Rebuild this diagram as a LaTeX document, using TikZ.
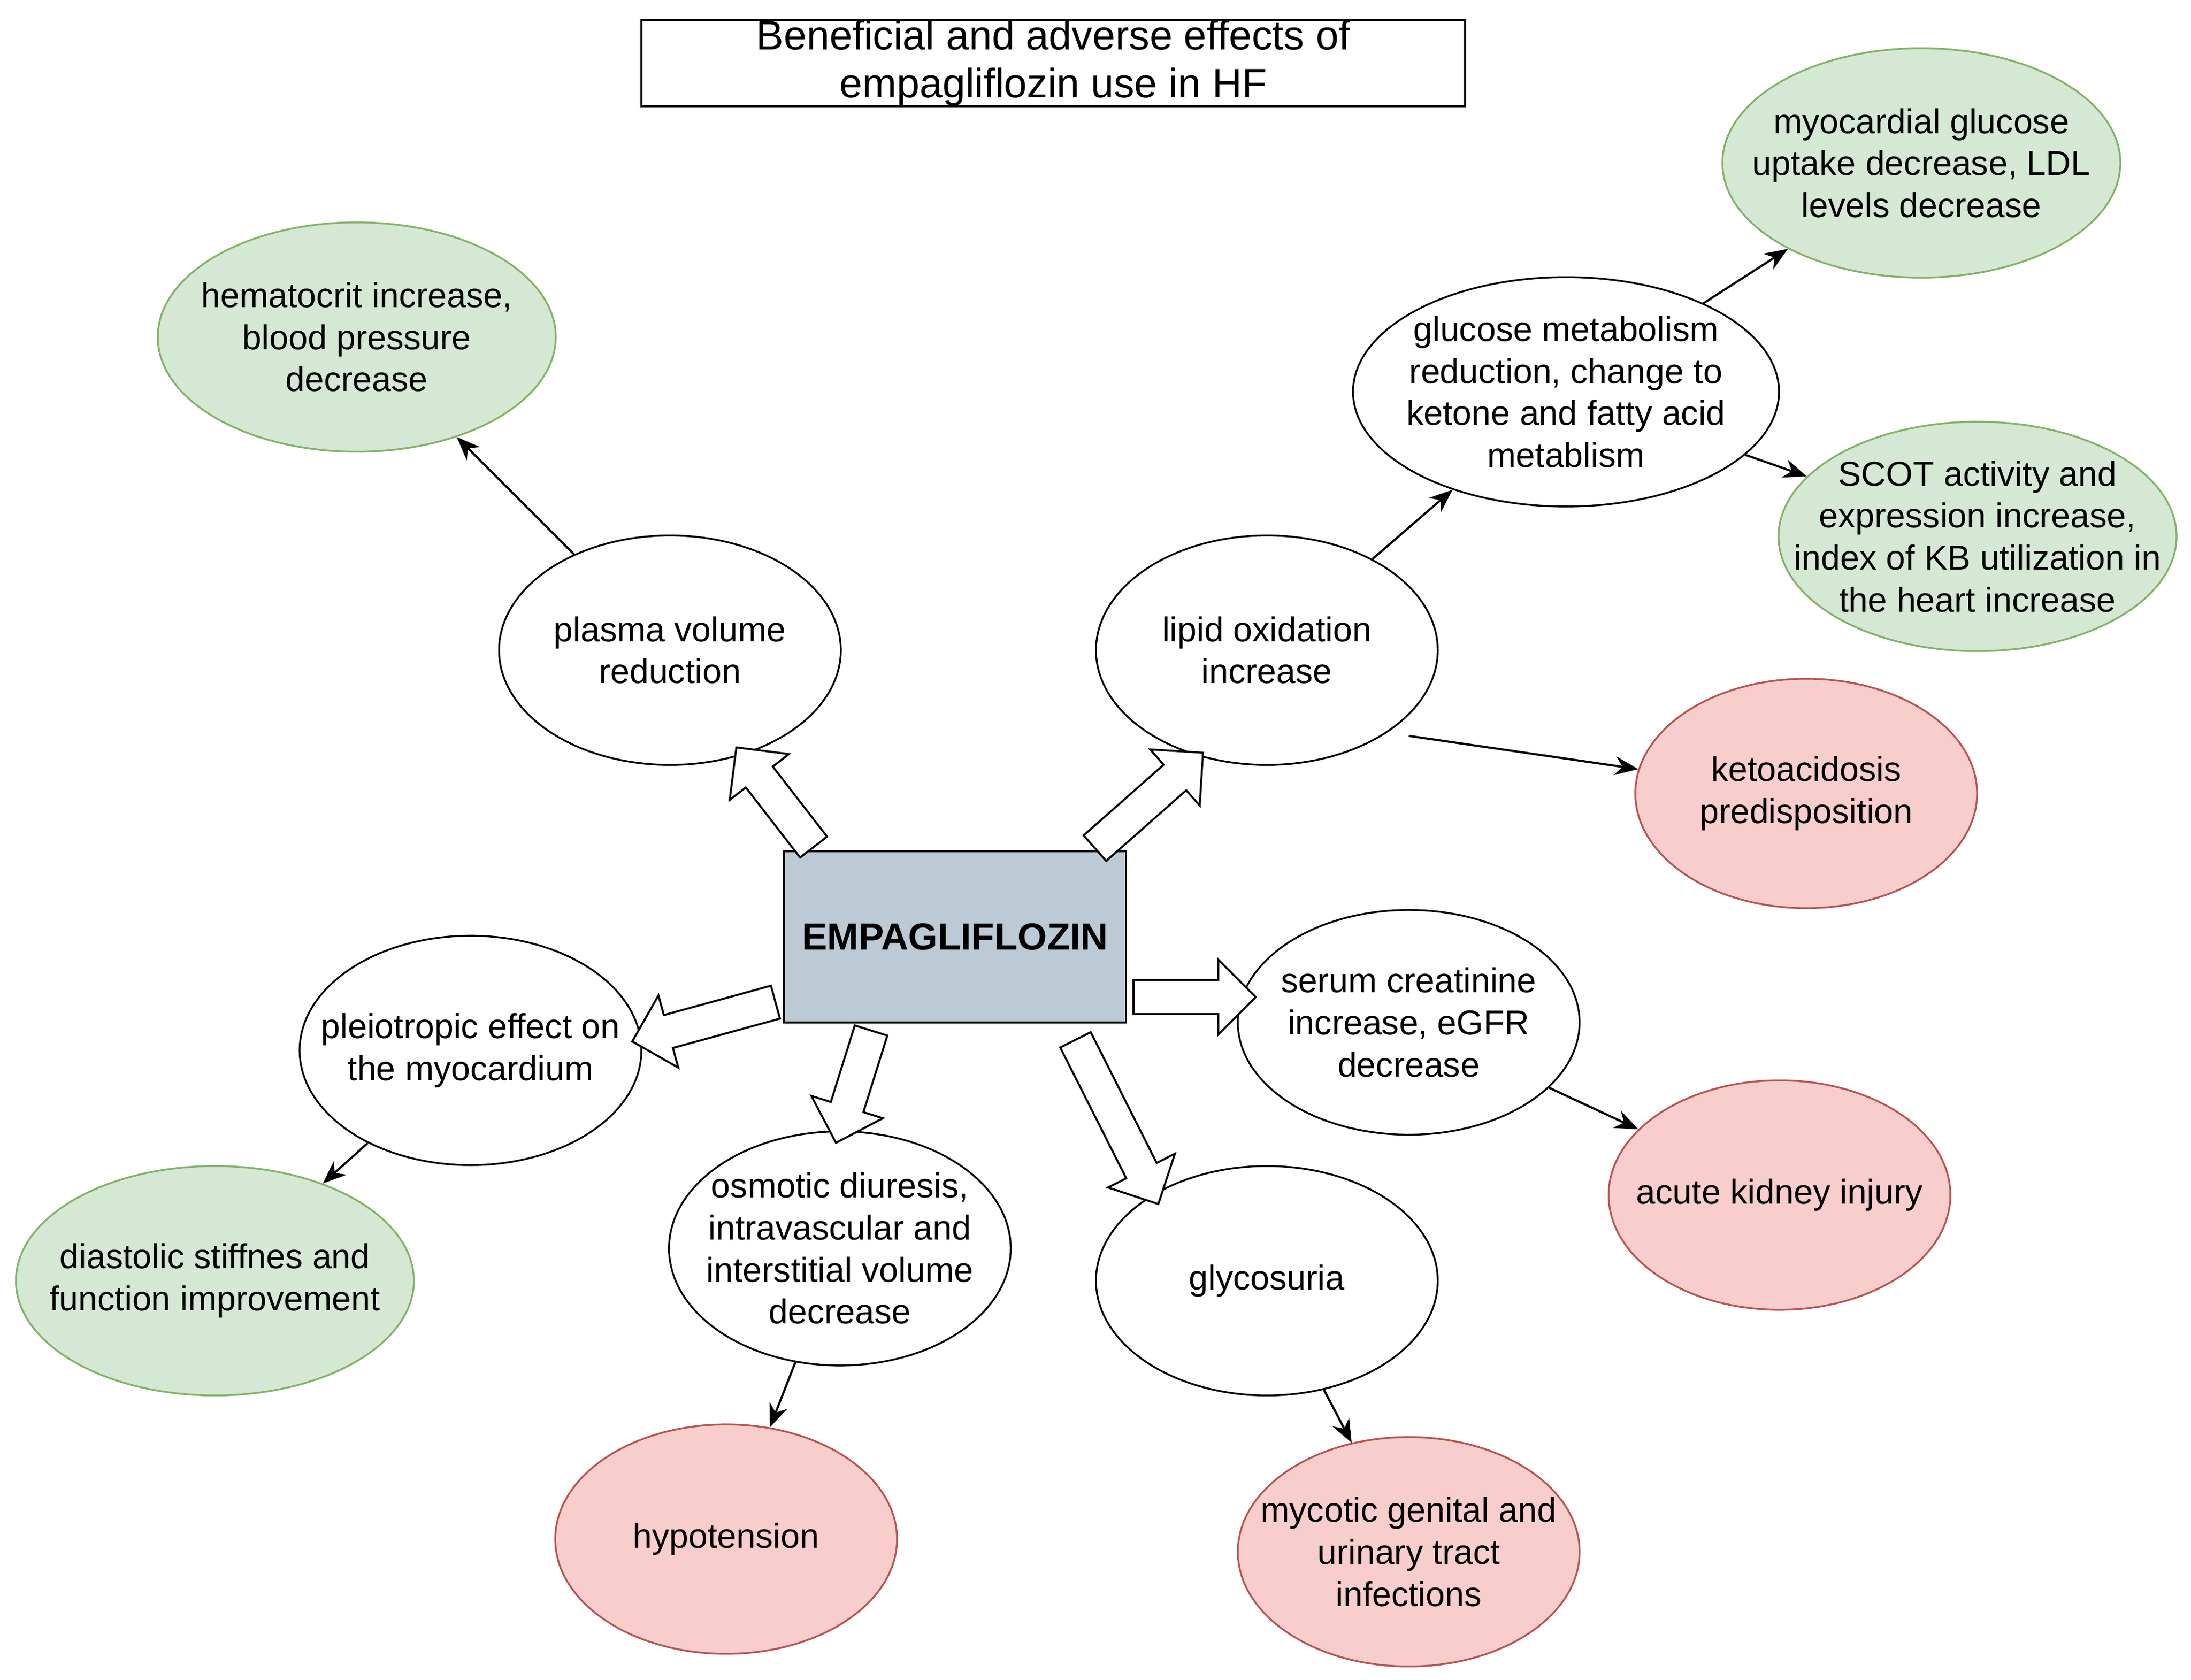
\documentclass[tikz,border=0pt]{standalone}
\usepackage{fontspec}
\setmainfont{Liberation Sans}
\usetikzlibrary{shapes.geometric,shapes.arrows,calc,arrows.meta}
\definecolor{okfill}{HTML}{D5E8D4}
\definecolor{okline}{HTML}{82B366}
\definecolor{badfill}{HTML}{F8CECC}
\definecolor{badline}{HTML}{B85450}
\definecolor{drugfill}{HTML}{BCCAD6}
\tikzset{
  effect/.style={ellipse, draw, fill=white, line width=1.1pt, align=center,
    inner xsep=-1cm, inner ysep=-0.6cm, minimum width=7.3cm, minimum height=4.9cm},
  good/.style={effect, fill=okfill, draw=okline, minimum width=8.5cm},
  bad/.style={effect, fill=badfill, draw=badline},
  thin/.style={-{Stealth[length=0.5cm, width=0.4cm]}, line width=1.3pt},
  fat/.style={single arrow, draw, fill=white, line width=1.2pt, minimum width=1.6cm,
    single arrow head extend=0.42cm, single arrow head indent=0pt,
    inner xsep=0pt, inner ysep=0.33cm}
}
\newcommand{\fatarrow}[2]{%
  \path let \p1=(#1), \p2=(#2), \n1={atan2(\y2-\y1,\x2-\x1)}, \n2={veclen(\x2-\x1,\y2-\y1)} in
    node[fat, minimum height=\n2, rotate=\n1] at ($(#1)!0.5!(#2)$) {};}

\begin{document}
\begin{tikzpicture}[x=0.03cm, y=-0.03cm, every node/.style={font=\fontsize{21}{25.5}\selectfont}]
\useasboundingbox (0,0) rectangle (1560,1196);

% title and drug
\node[draw, line width=1.2pt, minimum width=17.6cm, minimum height=1.83cm, inner sep=0pt, align=center,
  font=\fontsize{25}{29}\selectfont] (title) at (750,45)
  {Beneficial and adverse effects of\\empagliflozin use in HF};
\node[draw, line width=1.2pt, fill=drugfill, minimum width=7.3cm, minimum height=3.66cm,
  font=\fontsize{23}{27}\selectfont\bfseries] (drug) at (680,667) {EMPAGLIFLOZIN};

% first level
\node[effect] (plasma) at (477,463) {plasma volume\\reduction};
\node[effect] (lipid) at (902,463) {lipid oxidation\\increase};
\node[effect] (pleio) at (335,748) {pleiotropic effect on\\the myocardium};
\node[effect, minimum height=5cm] (osmo) at (598,889) {osmotic diuresis,\\intravascular and\\interstitial volume\\decrease};
\node[effect] (glyco) at (902,912) {glycosuria};
\node[effect, minimum height=4.8cm] (serum) at (1003,728) {serum creatinine\\increase, eGFR\\decrease};
\node[effect, minimum width=9.1cm] (gluc) at (1115,279) {glucose metabolism\\reduction, change to\\ketone and fatty acid\\metablism};

% outcomes
\node[good] (hema) at (254,240) {hematocrit increase,\\blood pressure\\decrease};
\node[good] (myo) at (1368,116) {myocardial glucose\\uptake decrease, LDL\\levels decrease};
\node[good] (scot) at (1408,382) {SCOT activity and\\expression increase,\\index of KB utilization in\\the heart increase};
\node[good] (dia) at (153,912) {diastolic stiffnes and\\function improvement};
\node[bad] (keto) at (1286,565) {ketoacidosis\\predisposition};
\node[bad] (aki) at (1267,851) {acute kidney injury};
\node[bad] (hypo) at (517,1096) {hypotension};
\node[bad] (myco) at (1003,1105) {mycotic genital and\\urinary tract\\infections};

% block arrows
\coordinate (a1) at (583,608); \coordinate (b1) at (528,537);
\coordinate (a2) at (775,608); \coordinate (b2) at (852,540);
\coordinate (a3) at (558,712); \coordinate (b3) at (456,740);
\coordinate (a4) at (622,728); \coordinate (b4) at (597,808);
\coordinate (a5) at (763,735); \coordinate (b5) at (822,852);
\coordinate (a6) at (801,710); \coordinate (b6) at (888,710);
\foreach \i in {1,...,6} {\fatarrow{a\i}{b\i}}

% thin arrows
\coordinate (k0) at (1003,524);
\draw[thin] (plasma) -- (hema);
\draw[thin] (lipid) -- (gluc);
\draw[thin] (gluc) -- (myo);
\draw[thin] (gluc) -- (scot);
\draw[thin] (k0) -- (keto);
\draw[thin] (serum) -- (aki);
\draw[thin] (pleio) -- (dia);
\draw[thin] (osmo) -- (hypo);
\draw[thin] (glyco) -- (myco);
\end{tikzpicture}
\end{document}
